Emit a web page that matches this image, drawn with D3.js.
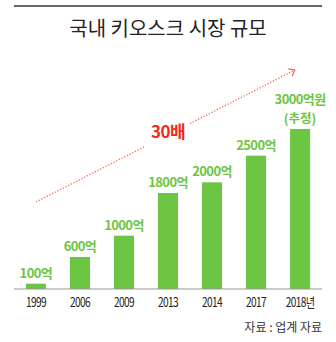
<!DOCTYPE html>
<html>
<head>
<meta charset="utf-8">
<script src="https://cdn.jsdelivr.net/npm/d3@7"></script>
<style>
  body { margin: 0; background: #fff; }
  svg { display: block; font-family: "Noto Sans CJK KR", "Noto Sans", sans-serif; }
</style>
</head>
<body>
<svg id="chart" width="336" height="342"></svg>
<script>
// 국내 키오스크 시장 규모 (단위: 억원)
const years = ["1999", "2006", "2009", "2013", "2014", "2017", "2018년"];
const values = [100, 600, 1000, 1800, 2000, 2500, 3000];
const valueLabels = ["100억", "600억", "1000억", "1800억", "2000억", "2500억", "3000억원"];
const noteLabel = "(추정)";
const title = "국내 키오스크 시장 규모";
const growthLabel = "30배";
const source = "자료 : 업계 자료";

const plotLeft = 14, plotRight = 322, plotBase = 289, plotTop = 129;
const green = "#6cc543";
const red = "#ee2b1c";

const svg = d3.select("#chart");

// top rule + title
svg.append("line").attr("x1", plotLeft).attr("x2", plotRight).attr("y1", 6).attr("y2", 6)
  .attr("stroke", "#333").attr("stroke-width", 1.5);
svg.append("text").attr("x", 168).attr("y", 36).attr("text-anchor", "middle")
  .attr("font-size", 20).attr("fill", "#222").attr("font-weight", 400)
  .text(title);

const x = d3.scaleBand().domain(years).range([plotLeft, plotRight]).paddingInner(0.545).paddingOuter(0.27);
const y = d3.scaleLinear().domain([0, 3000]).range([plotBase, plotTop]);

// growth arrow (dotted) with a gap for the label
const x0 = x(years[0]) + x.bandwidth() / 2, y0 = plotBase - 87;
const x1 = x(years[6]) + 5, y1 = 70;
const lineAt = t => [x0 + (x1 - x0) * t, y0 + (y1 - y0) * t];
const tGap0 = (145 - x0) / (x1 - x0), tGap1 = (190 - x0) / (x1 - x0);
const arrowColor = "#f4745c";
[[0, tGap0], [tGap1, 1]].forEach(([a, b]) => {
  const p = lineAt(a), q = lineAt(b);
  svg.append("line").attr("x1", p[0]).attr("y1", p[1]).attr("x2", q[0]).attr("y2", q[1])
    .attr("stroke", arrowColor).attr("stroke-width", 1.3).attr("stroke-dasharray", "1.4,1.6");
});
// arrowhead
const ang = Math.atan2(y1 - y0, x1 - x0);
const hl = 7;
[Math.PI * 0.8, -Math.PI * 0.8].forEach(da => {
  svg.append("line").attr("x1", x1).attr("y1", y1)
    .attr("x2", x1 + hl * Math.cos(ang + da)).attr("y2", y1 + hl * Math.sin(ang + da))
    .attr("stroke", arrowColor).attr("stroke-width", 1.3);
});
svg.append("text").attr("x", 168).attr("y", 138).attr("text-anchor", "middle")
  .attr("font-size", 17).attr("font-weight", 700).attr("fill", red)
  .attr("letter-spacing", -0.5).text(growthLabel);

// bars
svg.selectAll("rect.bar").data(values).join("rect").attr("class", "bar")
  .attr("x", (d, i) => x(years[i]))
  .attr("y", d => y(d))
  .attr("width", x.bandwidth())
  .attr("height", d => plotBase - y(d))
  .attr("fill", green);

// value labels
svg.selectAll("text.val").data(values).join("text").attr("class", "val")
  .attr("x", (d, i) => x(years[i]) + x.bandwidth() / 2)
  .attr("y", (d, i) => i === 6 ? y(d) - 25 : y(d) - 6)
  .attr("text-anchor", "middle")
  .attr("font-size", 13).attr("font-weight", 700).attr("fill", green)
  .attr("letter-spacing", -0.6)
  .text((d, i) => valueLabels[i]);
svg.append("text")
  .attr("x", x(years[6]) + x.bandwidth() / 2)
  .attr("y", y(values[6]) - 6)
  .attr("text-anchor", "middle")
  .attr("font-size", 12.5).attr("font-weight", 700).attr("fill", green)
  .text(noteLabel);

// baseline axis
const axis = svg.append("g").attr("transform", `translate(0,${plotBase})`)
  .call(d3.axisBottom(x).tickSize(0).tickPadding(0));
axis.select(".domain").attr("d", `M${plotLeft},0H${plotRight}`).attr("stroke", "#999").attr("stroke-width", 1);
axis.selectAll(".tick text")
  .attr("font-family", "'Noto Sans CJK KR', sans-serif")
  .attr("font-size", 13).attr("fill", "#222").attr("dy", 0).attr("y", 0)
  .attr("transform", "translate(0,18) scale(0.78,1)")
  .attr("letter-spacing", -0.8);

// source note
svg.append("text").attr("x", plotRight).attr("y", 332).attr("text-anchor", "end")
  .attr("font-size", 12).attr("fill", "#333").text(source);
</script>
</body>
</html>
